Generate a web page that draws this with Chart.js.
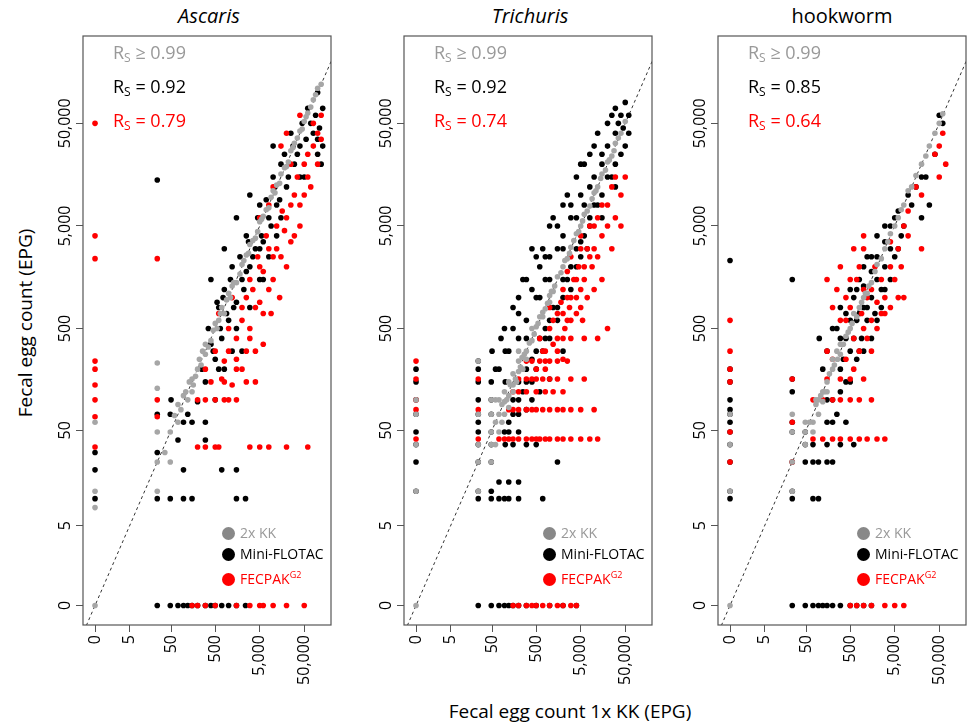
<!DOCTYPE html>
<html>
<head>
<meta charset="utf-8">
<script src="https://cdn.jsdelivr.net/npm/chart.js@4"></script>
<style>
  body { margin: 0; background: #fff; font-family: "Open Sans", sans-serif; }
  #wrap { position: relative; width: 967px; height: 727px; overflow: hidden; }
  canvas.p { position: absolute; }
  .title { position: absolute; top: 2px; font-size: 20px; text-align: center; width: 252px; }
  .rs { position: absolute; font-size: 18px; line-height: 29px; }
  .rs sub { font-size: 12px; vertical-align: -3px; }
  .leg { position: absolute; font-size: 14px; line-height: 21px; }
  .leg span.d { display: inline-block; width: 13px; height: 13px; border-radius: 50%; vertical-align: -2px; margin-right: 5px; }
  .leg sup { font-size: 9px; }
  .ytitle { position: absolute; left: -95px; top: 310px; width: 240px; text-align: center; font-size: 19px; transform: rotate(-90deg); }
  .xtitle { position: absolute; left: 360px; top: 698px; width: 420px; text-align: center; font-size: 19px; }
</style>
</head>
<body>
<div id="wrap">
  <div class="title" style="left:83px"><i>Ascaris</i></div>
  <div class="title" style="left:404px"><i>Trichuris</i></div>
  <div class="title" style="left:716px">hookworm</div>
  <div class="ytitle">Fecal egg count (EPG)</div>
  <div class="xtitle">Fecal egg count 1x KK (EPG)</div>
  <canvas class="p" id="c1"></canvas>
  <canvas class="p" id="c2"></canvas>
  <canvas class="p" id="c3"></canvas>
</div>
<script>
// tick labels (EPG)
const tickValues = [0, 5, 50, 500, 5000, 50000];
const tickLabels = ['0', '5', '50', '500', '5,000', '50,000'];
const seriesNames = ['2x KK', 'Mini-FLOTAC', 'FECPAK'];
const seriesColors = ['#a6a6a6', '#000000', '#ff0000'];

// ---- Ascaris: [1x KK EPG, method EPG]
const ascKK = [[0,0],[0,60],[0,12],[0,8],[24,230],[24,130],[24,48],[24,24],[24,12],[36,30],[48,24],
  [48,48],[72,60],[96,110],[120,100],[150,160],[200,200],[240,220],[300,280],[400,380],[500,560],[600,600],
  [800,700],[1000,1100],[1200,1300],[1500,1400],[2000,2100],[2500,2600],[3000,3300],[4000,3800],[5000,5500],
  [6000,6200],[8000,7500],[10000,11000],[12000,12500],[15000,16000],[20000,19000],[25000,27000],[30000,32000],
  [40000,42000],[50000,52000],[60000,63000],[80000,85000],[100000,110000],[72,90],[150,120],[300,350],[700,800],
  [180,170],[260,300],[350,330],[450,480],[550,500],[650,700],[900,950],[1100,1000],[1300,1400],[1800,1700],
  [2200,2300],[2800,2700],[3500,3600],[4500,4400],[5500,5800],[7000,7200],[9000,9500],[11000,10500],
  [14000,13000],[18000,18500],[22000,21000],[28000,29000],[35000,36000],[45000,44000],[55000,58000],
  [70000,72000],[90000,95000],[120000,120000],[60,70],[84,80],[108,120],[130,150],[160,140],[220,250]];
const ascMF = [[0,30],[0,20],[0,10],[24,14000],[24,72],[24,30],[24,10],[48,10],[96,10],[150,10],[1500,10],[2400,10],
  [48,72],[96,20],[700,20],[1500,20],[300,40],
  [50,100],[72,40],[96,60],[120,72],[150,60],[200,96],[250,200],[300,150],[400,350],[500,250],[600,800],[700,400],
  [800,1200],[1000,600],[1200,2000],[1500,900],[2000,1500],[2500,4000],[3000,2000],[4000,3000],[5000,8000],
  [6000,3500],[8000,6000],[10000,15000],[12000,8000],[15000,20000],[20000,12000],[25000,40000],[30000,20000],
  [40000,30000],[50000,15000],[60000,70000],[80000,40000],[100000,25000],[100000,100000],[120000,20000],
  [10000,30000],[3000,10000],[800,3000],[400,1500],[1500,6000],[600,200],[2000,300],[5000,1500],
  [350,500],[450,300],[550,900],[650,500],[750,1000],[900,700],[1100,1500],[1300,800],[1800,2500],[2200,1200],
  [2800,3500],[3500,2500],[4500,6000],[5500,4000],[7000,9000],[9000,5000],[11000,12000],[14000,9000],
  [18000,25000],[22000,15000],[28000,30000],[35000,25000],[45000,50000],[55000,35000],[70000,50000],
  [90000,60000],[110000,45000],[6000,1500],[3000,800],[8000,2500],[12000,4000],[1500,500],[2500,1800],
  [5000,3000],[15000,6000],[40000,15000],[1200,300],[300,60],[500,100],[800,200],[100000,35000],
  [130000,70000],[130000,30000],
  [24,0],[48,0],[72,0],[96,0],[120,0],[150,0],[200,0],[300,0],[400,0],[500,0],[700,0],[1000,0],[1500,0],[2400,0]];
const ascFP = [[0,50000],[0,4000],[0,2400],[0,240],[0,200],[0,140],[0,100],[0,68],[0,34],[24,2400],[24,68],[24,100],
  [200,34],[300,34],[500,34],[600,34],[3000,34],[5000,34],[8000,34],[20000,34],[60000,34],
  [200,100],[300,100],[500,100],[800,100],[1000,100],[1500,100],[300,200],[500,300],[800,240],[1000,500],
  [1500,400],[2000,800],[2500,300],[3000,1500],[4000,800],[5000,2000],[6000,700],[8000,3000],[10000,1500],
  [12000,5000],[15000,2500],[20000,6000],[25000,3500],[30000,10000],[40000,5000],[50000,20000],[60000,15000],
  [80000,30000],[100000,40000],[120000,60000],[5000,6000],[10000,12000],[20000,40000],[40000,60000],[1200,1000],
  [600,700],[400,150],[700,160],[2000,200],[3000,400],
  [1000,300],[1500,250],[2000,600],[2500,1000],[3000,500],[3500,1200],[4000,300],[4500,2500],[5000,900],
  [6000,1800],[7000,4000],[8000,1200],[9000,700],[10000,2500],[12000,3000],[14000,1000],[16000,7000],
  [18000,4500],[20000,2000],[25000,8000],[30000,4000],[35000,15000],[40000,8000],[50000,10000],[60000,25000],
  [70000,12000],[80000,50000],[100000,20000],[120000,35000],[1500,200],[2500,150],[4000,150],[6000,350],
  [800,150],[1200,140],[15000,30000],[25000,20000],[8000,8000],
  [150,0],[200,0],[300,0],[500,0],[1500,0],[3000,0],[5000,0],[6000,0],[10000,0],[20000,0],[50000,0]];

// ---- Trichuris
const triKK = [[0,0],[0,12],[0,36],[0,72],[0,100],[24,12],[24,24],[24,36],[24,72],[48,24],[48,36],[48,48],
  [48,72],[48,100],[72,72],[96,96],[120,110],[150,140],[200,190],[240,260],[300,300],[400,380],[500,520],
  [600,650],[800,780],[1000,1050],[1200,1150],[1500,1600],[2000,2000],[2500,2400],[3000,3100],[4000,4200],
  [5000,5000],[6000,6500],[8000,7800],[10000,10500],[12000,12000],[15000,16000],[20000,21000],[25000,24000],
  [30000,32000],[40000,40000],[50000,52000],[72,48],[96,72],[120,150],[150,120],[200,240],[300,250],[400,500],
  [700,650],[1000,900],[24,240],[72,100],
  [60,60],[84,90],[108,100],[130,140],[170,160],[220,210],[270,280],[350,360],[450,440],[550,560],[700,720],
  [900,880],[1100,1150],[1300,1300],[1800,1750],[2200,2300],[2800,2700],[3500,3600],[4500,4400],[5500,5600],
  [7000,7000],[9000,9200],[11000,11000],[14000,14500],[18000,17500],[22000,22000],[28000,27000],[35000,36000],
  [60,36],[84,60],[60,100],[96,120],[120,84],[150,180],[180,150],[250,200],[200,300]];
const triMF = [[0,12],[0,24],[0,36],[0,48],[0,72],[0,100],[0,150],[0,200],[24,12],[24,24],[24,36],[24,48],
  [24,60],[24,72],[24,100],[24,150],[24,200],[24,240],[48,12],[48,24],[48,36],[48,48],[48,72],[48,100],[48,150],
  [24,10],[48,10],[72,10],[96,10],[120,10],[200,10],[700,10],[72,15],[120,15],[200,15],
  [50,300],[72,200],[100,150],[96,500],[120,300],[150,800],[200,400],[200,1000],[300,600],[300,1500],[400,3000],
  [500,1000],[600,2000],[800,1500],[1000,5000],[1000,2500],[1500,3000],[2000,8000],[2000,4000],[3000,6000],
  [4000,15000],[5000,10000],[6000,20000],[8000,12000],[10000,30000],[15000,25000],[20000,50000],[30000,40000],
  [40000,60000],[60000,60000],[96,48],[120,60],[150,72],[200,100],[300,150],[400,250],[500,200],[600,400],
  [800,500],[1000,600],[1500,800],[2000,1500],[3000,2000],[4000,3000],[5000,2500],[6000,4000],[8000,6000],
  [10000,8000],[15000,10000],[20000,15000],[30000,20000],[40000,25000],[50000,30000],[300,36],[500,36],
  [150,36],[200,48],[1500,24],
  [60,200],[80,400],[100,300],[150,500],[200,700],[250,1500],[300,400],[400,1200],[500,2500],[600,1000],
  [700,3000],[800,2500],[1000,1500],[1200,6000],[1500,5000],[2000,3000],[2500,10000],[3000,8000],[4000,6000],
  [5000,20000],[6000,8000],[8000,25000],[10000,15000],[12000,40000],[15000,20000],[20000,30000],[25000,60000],
  [30000,70000],[35000,50000],[50000,80000],[45000,45000],[150,100],[200,150],[250,120],[300,200],[400,150],
  [500,300],[700,300],[800,400],[1000,400],[1200,800],[1500,600],[2000,1000],[2500,1500],[3000,1200],
  [4000,2000],[5000,3500],[7000,3000],[8000,5000],[12000,8000],[15000,6000],[25000,15000],[30000,12000],
  [60000,40000],[100,36],[120,48],[200,72],[300,80],[400,100],[600,120],[1000,160],[2000,300],
  [24,0],[48,0],[72,0],[96,0],[120,0],[150,0],[200,0],[300,0],[500,0],[1000,0],[2000,0],[4000,0]];
const triFP = [[0,240],[0,160],[0,80],[0,41],[0,100],[24,41],[24,80],[24,160],
  [72,41],[96,41],[120,41],[150,41],[200,41],[300,41],[400,41],[500,41],[600,41],[800,41],[1000,41],[1500,41],
  [2000,41],[3000,41],[5000,41],[8000,41],[12000,41],
  [120,80],[150,80],[200,80],[300,80],[400,80],[500,80],[700,80],[1000,80],[1500,80],[2000,80],[3000,80],
  [5000,80],[10000,80],[150,120],[200,120],[300,120],[500,120],[800,120],[1200,120],[2000,120],
  [200,160],[300,160],[400,160],[500,160],[700,160],[1000,160],[1500,160],[3000,160],[6000,160],
  [300,240],[400,240],[600,240],[800,240],[1000,240],[1500,240],[2500,240],
  [1000,500],[1500,700],[2000,400],[2000,1200],[3000,1000],[3000,2500],[4000,1500],[5000,800],[5000,3000],
  [6000,2000],[8000,5000],[10000,3000],[12000,6000],[15000,4000],[20000,8000],[25000,12000],[40000,10000],
  [30000,6000],[1200,350],[800,300],[2500,600],[10000,1200],[600,400],
  [1200,600],[1500,400],[1800,900],[2000,700],[2200,500],[2500,1000],[2800,800],[3000,600],[3500,1500],
  [4000,700],[4000,1000],[4500,2000],[5000,1200],[5500,600],[6000,1500],[7000,3000],[7000,1000],[8000,2500],
  [9000,2000],[10000,5000],[12000,2500],[15000,8000],[20000,5000],[30000,15000],[50000,15000],[3000,400],
  [2000,250],[1500,300],[800,200],[500,200],[12000,400],[20000,500],[6000,400],[15000,1500],[5000,4000],
  [2500,1800],[1000,800],[700,300],[40000,5000],[25000,3000],
  [150,0],[200,0],[300,0],[400,0],[500,0],[700,0],[1000,0],[1500,0],[2000,0],[3000,0],[4000,0]];

// ---- hookworm
const hkKK = [[0,0],[0,12],[0,36],[0,72],[24,12],[24,24],[24,48],[24,72],[48,36],[48,48],[72,60],[96,100],
  [120,120],[150,150],[200,200],[300,280],[400,420],[500,500],[700,650],[1000,1000],[1500,1400],[2000,2100],
  [3000,3000],[4000,4200],[5000,5000],[8000,8000],[10000,11000],[20000,20000],[30000,30000],[50000,50000],
  [150,120],[250,300],[600,700],[72,48],[1200,1100],[96,72],[48,60],
  [60,60],[84,90],[108,110],[130,120],[170,180],[220,220],[260,250],[350,350],[450,460],[550,560],[800,800],
  [900,900],[1100,1100],[1300,1300],[1800,1800],[2500,2400],[3500,3500],[6000,6000],[7000,7200],[12000,12000],
  [15000,15500],[25000,24000],[40000,40000],[60000,62000],[84,100],[120,96],[200,250],[300,350]];
const hkMF = [[0,2300],[0,200],[0,150],[0,100],[0,80],[0,72],[0,60],[0,48],[0,36],[0,24],[0,12],[0,10],
  [24,1500],[24,160],[24,120],[24,60],[24,48],[24,24],[24,12],[24,10],[48,48],[48,36],[48,24],[72,24],[96,24],
  [150,24],[200,24],[72,10],[96,10],[72,36],[150,36],[300,36],[600,36],[400,60],
  [100,400],[150,300],[200,500],[300,800],[300,200],[400,400],[500,1200],[500,300],[700,600],[800,1500],
  [1000,800],[1000,2000],[1500,1000],[1500,2500],[2000,1500],[2000,4000],[3000,2000],[3000,5000],[4000,3000],
  [5000,6000],[6000,3000],[8000,5000],[10000,10000],[20000,6000],[30000,8000],[25000,15000],[40000,25000],
  [200,100],[400,150],[800,300],[1200,600],[2500,800],[3000,1200],
  [120,200],[150,100],[250,500],[300,400],[350,250],[400,700],[500,600],[600,400],[600,1000],[700,1200],
  [800,700],[900,400],[1000,1300],[1200,800],[1200,2500],[1500,1800],[1800,700],[2000,2500],[2500,1200],
  [3000,3500],[4000,5000],[4000,1500],[5000,2500],[6000,7000],[7000,4000],[12000,8000],[15000,12000],
  [20000,15000],[50000,60000],[60000,50000],[300,120],[500,150],[700,250],[1000,300],[1500,400],[2000,600],
  [150,60],[200,60],[250,72],
  [24,0],[48,0],[72,0],[96,0],[120,0],[150,0],[200,0],[300,0],[500,0],[700,0],[1000,0],[1500,0]];
const hkFP = [[0,600],[0,300],[0,200],[0,150],[0,48],[0,24],[24,160],[24,60],[24,24],
  [72,41],[120,41],[200,41],[300,41],[500,41],[800,41],[1200,41],[2000,41],[3000,41],
  [72,100],[120,100],[200,100],[300,100],[500,100],[800,100],[1500,100],[150,160],[300,160],[500,160],[1000,160],
  [150,1500],[200,800],[300,600],[400,1000],[500,1500],[600,400],[800,2000],[1000,500],[1200,1000],[1500,600],
  [2000,900],[2500,1500],[3000,700],[4000,2000],[5000,1500],[6000,3000],[8000,1000],[10000,4000],[15000,12000],
  [20000,10000],[40000,25000],[50000,30000],[50000,15000],[1000,4000],[600,3000],[300,2000],
  [150,300],[200,250],[250,1200],[400,600],[500,800],[700,1500],[900,700],[1000,1200],[1200,400],[1500,1200],
  [1800,2000],[2000,500],[2500,700],[3000,1000],[4000,800],[4000,3500],[6000,1000],[7000,2000],[8000,5000],
  [10000,7000],[20000,3000],[60000,40000],[70000,20000],[400,250],[600,200],[800,300],[1500,300],[1000,3000],
  [500,0],[700,0],[1000,0],[1500,0],[3000,0],[5000,0],[8000,0]];

const t = v => Math.log10(v + 1);
const toPts = arr => arr.map(p => ({ x: t(p[0]), y: t(p[1]) }));

const frame = {
  id: 'frame',
  afterDraw(chart) {
    const { ctx, chartArea: a, scales } = chart;
    ctx.save();
    ctx.strokeStyle = '#555'; ctx.lineWidth = 1.2;
    ctx.strokeRect(a.left, a.top, a.right - a.left, a.bottom - a.top);
    // y tick labels, rotated, centred on tick
    ctx.fillStyle = '#000'; ctx.font = '16px "Open Sans"';
    ctx.textAlign = 'center'; ctx.textBaseline = 'bottom';
    tickValues.forEach((v, i) => {
      const y = scales.y.getPixelForValue(t(v));
      ctx.save(); ctx.translate(a.left - 10, y); ctx.rotate(-Math.PI / 2);
      ctx.fillText(tickLabels[i], 0, 0); ctx.restore();
    });
    ctx.restore();
  }
};

function axis(w) {
  return {
    type: 'linear', min: w === 'x' ? -0.27 : -0.19, max: w === 'x' ? 5.3 : 5.55,
    afterBuildTicks: s => { s.ticks = tickValues.map(v => ({ value: t(v) })); },
    afterFit: s => { if (w === 'x') s.height = 95; else s.width = 45; },
    grid: { drawOnChartArea: false, tickLength: 7, color: '#555', tickColor: '#555' },
    border: { display: false },
    ticks: w === 'x'
      ? { minRotation: 90, maxRotation: 90, color: '#000', font: { size: 16, family: 'Open Sans' },
          callback: (v, i) => tickLabels[i] }
      : { display: false }
  };
}

function panel(id, left, kk, mf, fp) {
  const c = document.getElementById(id);
  c.style.left = (left - 45) + 'px'; c.style.top = '32px';
  c.style.width = '297px'; c.style.height = '688px';
  c.width = 297; c.height = 688;
  const sets = [kk, mf, fp].map((d, i) => ({
    label: seriesNames[i], data: toPts(d), backgroundColor: seriesColors[i], borderWidth: 0,
    pointRadius: 2.8, order: [0, 2, 1][i]
  }));
  sets.push({ type: 'line', data: [{ x: -1, y: -1 }, { x: 6, y: 6 }], borderColor: '#333', borderWidth: 1,
    borderDash: [3, 3], pointRadius: 0, order: 3 });
  new Chart(c, {
    type: 'scatter',
    data: { datasets: sets },
    options: {
      responsive: false, animation: false, layout: { padding: 0 },
      plugins: { legend: { display: false }, tooltip: { enabled: false } },
      scales: { x: axis('x'), y: axis('y') }
    },
    plugins: [frame]
  });
}

panel('c1', 83, ascKK, ascMF, ascFP);
panel('c2', 404, triKK, triMF, triFP);
panel('c3', 718, hkKK, hkMF, hkFP);

// R_S annotations and legends
const rsText = [['≥ 0.99', '= 0.92', '= 0.79'], ['≥ 0.99', '= 0.92', '= 0.74'], ['≥ 0.99', '= 0.85', '= 0.64']];
const lefts = [83, 404, 718];
const wrap = document.getElementById('wrap');
lefts.forEach((l, p) => {
  const r = document.createElement('div');
  r.className = 'rs'; r.style.left = (l + 30) + 'px'; r.style.top = '38px';
  r.innerHTML = rsText[p].map((s, i) => `<div style="color:${['#999', '#000', '#ff0000'][i]}">R<sub>S</sub> ${s}</div>`).join('');
  wrap.appendChild(r);
  const g = document.createElement('div');
  g.className = 'leg'; g.style.left = (l + 139) + 'px'; g.style.top = '522px';
  g.innerHTML = ['<span style="color:#999"><span class="d" style="background:#888"></span>2x KK</span>',
    '<span><span class="d" style="background:#000"></span>Mini-FLOTAC</span>',
    '<span style="color:#ff0000"><span class="d" style="background:#ff0000"></span>FECPAK<sup>G2</sup></span>']
    .map(s => `<div>${s}</div>`).join('');
  wrap.appendChild(g);
});
</script>
</body>
</html>
